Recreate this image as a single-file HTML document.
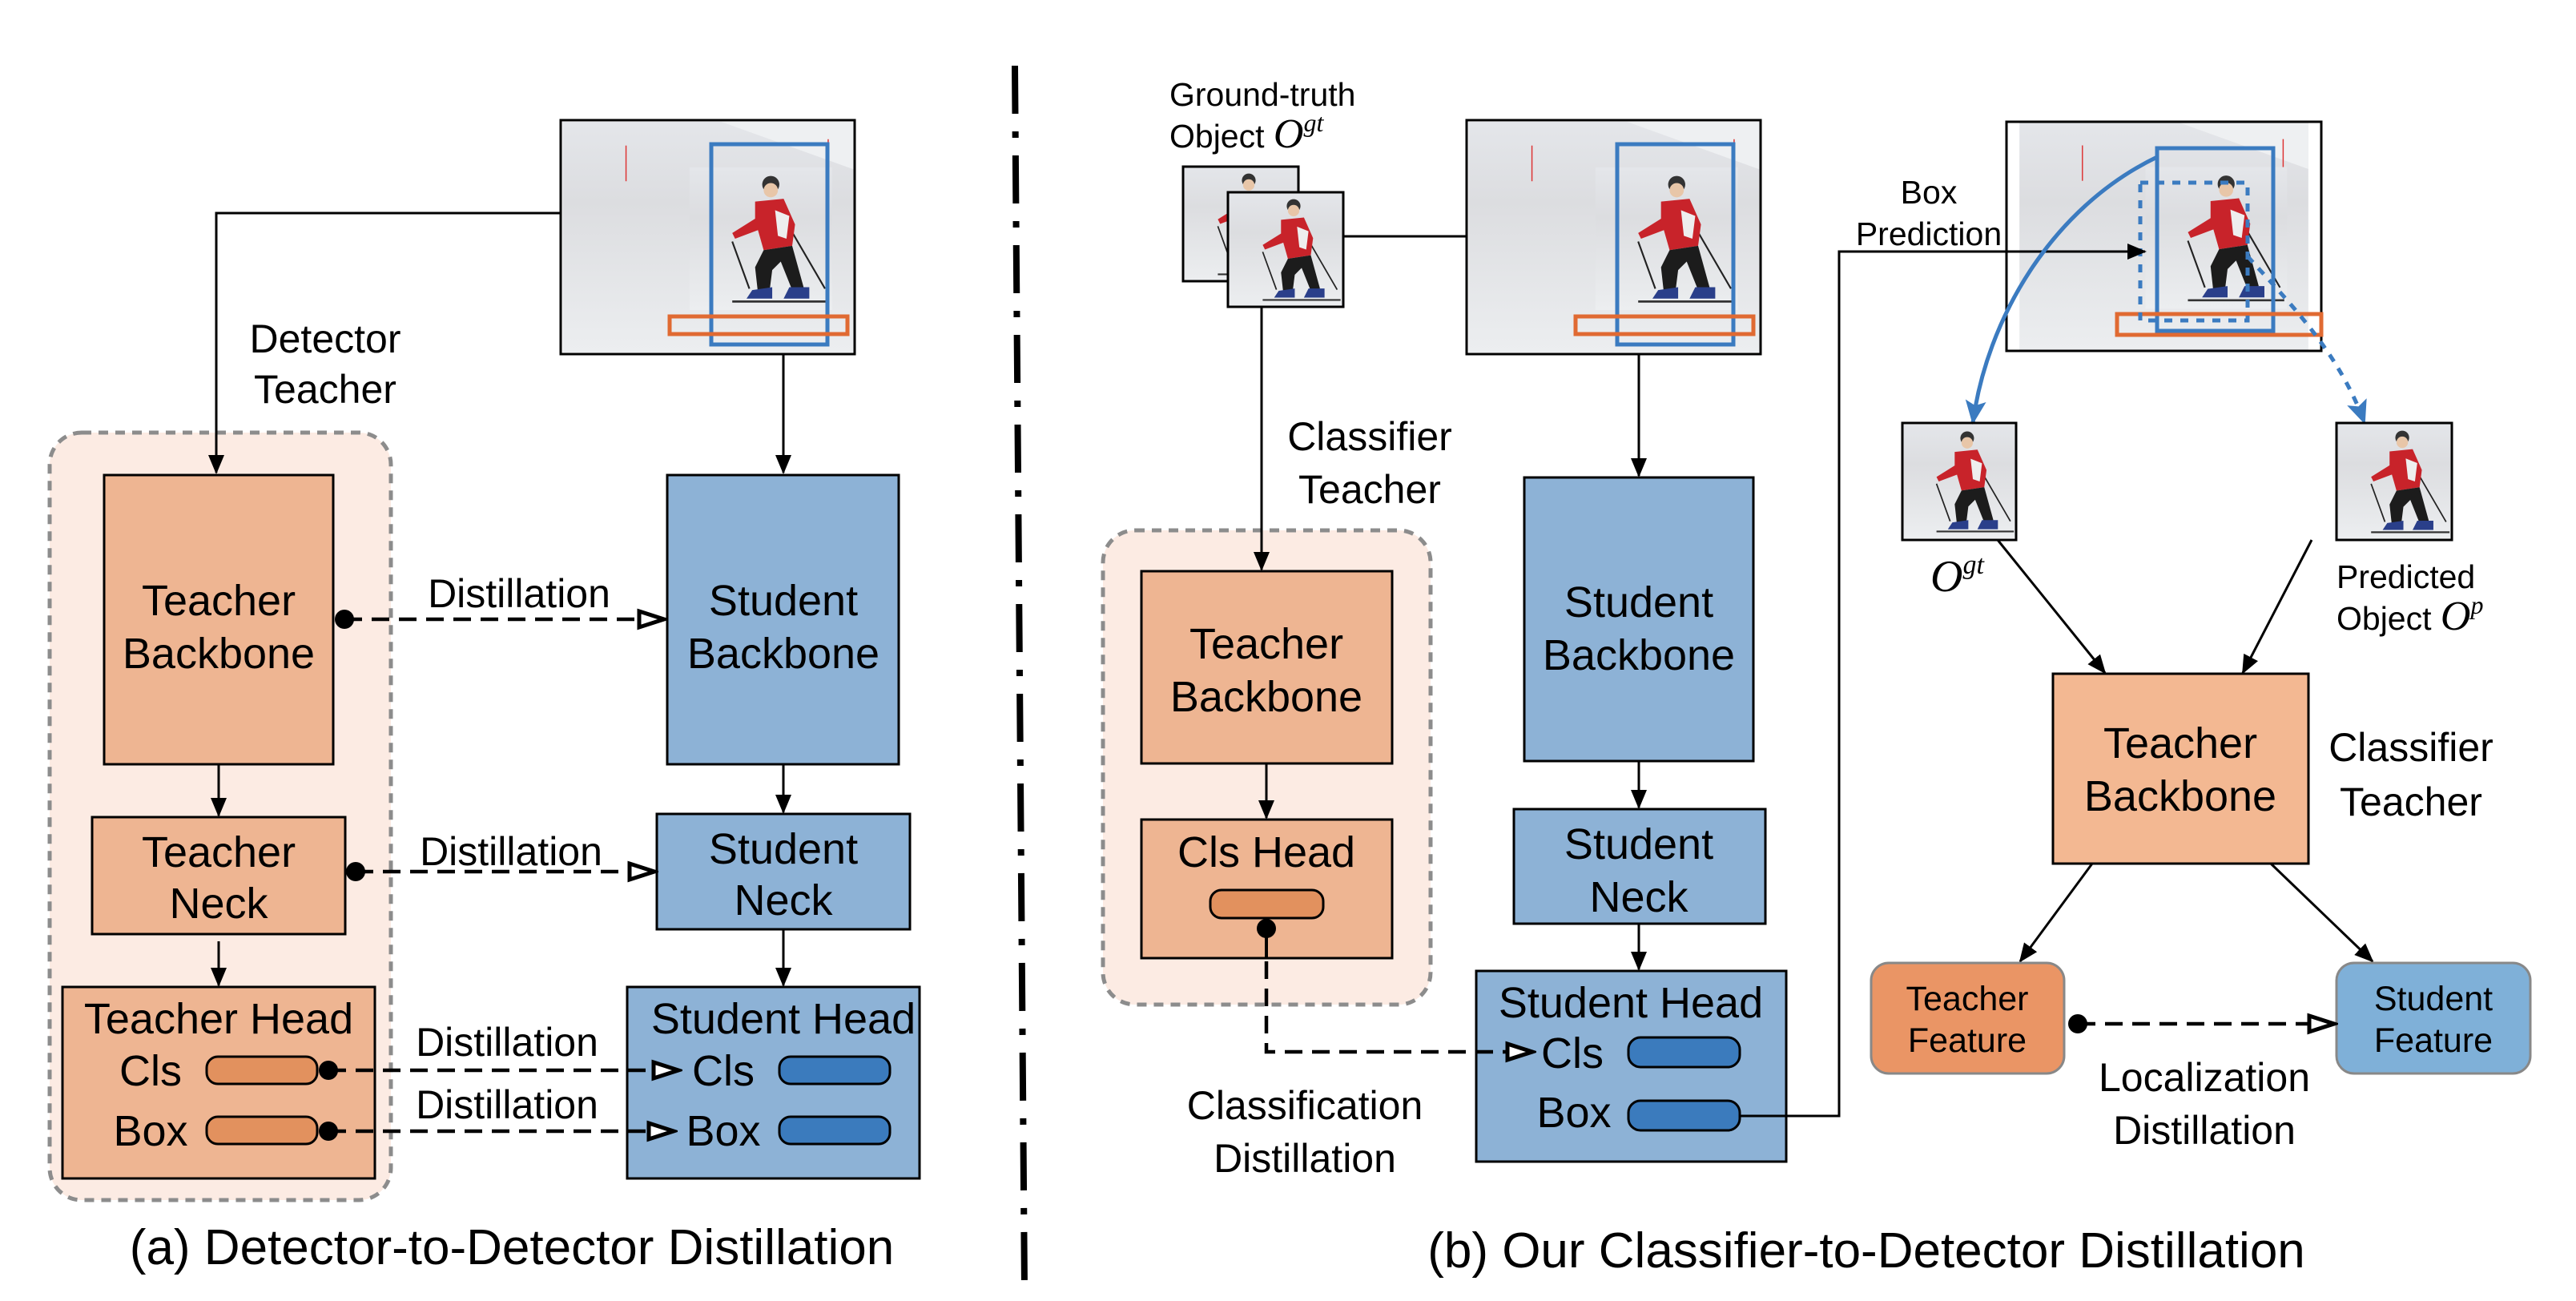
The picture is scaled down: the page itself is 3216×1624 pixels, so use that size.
<!DOCTYPE html>
<html><head><meta charset="utf-8"><style>
html,body{margin:0;padding:0;background:#fff}
svg{display:block}
text{font-family:"Liberation Sans",Arial,sans-serif;fill:#000}
.m{font-family:"Liberation Serif",serif;font-style:italic}
</style></head><body>
<svg width="3216" height="1624" viewBox="0 0 3216 1624" xmlns="http://www.w3.org/2000/svg">
<defs>
<marker id="ahb" markerWidth="24" markerHeight="24" refX="22" refY="12" orient="auto" markerUnits="userSpaceOnUse" viewBox="0 0 24 24"><path d="M0,2 L24,12 L0,22 z" fill="#000"/></marker>
<marker id="ahbl" markerWidth="32" markerHeight="32" refX="28" refY="16" orient="auto" markerUnits="userSpaceOnUse" viewBox="0 0 32 32"><path d="M0,3 L30,16 L0,29 L6,16 z" fill="#3b7bc0"/></marker>
<marker id="open" markerWidth="40" markerHeight="30" refX="36" refY="15" orient="auto" markerUnits="userSpaceOnUse" viewBox="0 0 40 30"><path d="M4,5 L35,15 L4,25 z" fill="#fff" stroke="#000" stroke-width="5" stroke-dasharray="none"/></marker>
<linearGradient id="snow" x1="0" y1="0" x2="0" y2="1"><stop offset="0" stop-color="#e4e6ea"/><stop offset="0.35" stop-color="#dcdde0"/><stop offset="1" stop-color="#eceef0"/></linearGradient>
<symbol id="skier" viewBox="0 0 100 100">
<rect x="0" y="0" width="100" height="100" fill="url(#snow)"/>
<line x1="30" y1="52" x2="42" y2="85" stroke="#222" stroke-width="1.2"/>
<line x1="70" y1="42" x2="95" y2="85" stroke="#222" stroke-width="1.2"/>
<circle cx="57" cy="12" r="6" fill="#333"/>
<circle cx="57" cy="16" r="5" fill="#e8c6a8"/>
<path d="M46,24 L66,22 L74,40 L72,55 L52,58 L48,44 L32,50 L30,46 L46,36 z" fill="#c8232a"/>
<path d="M60,30 L70,34 L68,50 L62,48 z" fill="#eee"/>
<path d="M52,58 L72,55 L80,84 L72,86 L64,66 L58,72 L56,88 L48,88 L46,70 z" fill="#1c1c1c"/>
<path d="M44,86 L58,84 L58,92 L40,92 z M70,84 L84,84 L84,92 L66,92 z" fill="#2a3f8a"/>
<line x1="30" y1="94" x2="98" y2="94" stroke="#333" stroke-width="1.5"/>
</symbol>
<symbol id="scene" viewBox="0 0 367 291">
<rect width="367" height="291" fill="url(#snow)"/>
<path d="M0,0 L200,0 L367,60 L367,0 z" fill="#eef0f2"/>
<line x1="80" y1="30" x2="80" y2="75" stroke="#d33" stroke-width="1.5"/>
<line x1="335" y1="22" x2="335" y2="90" stroke="#d33" stroke-width="1.5"/>
<use href="#skier" x="160" y="25" width="180" height="245"/>
</symbol>
</defs>

<!-- ============ LEFT (a) ============ -->
<rect x="62" y="540" width="426" height="958" rx="40" fill="#fcebe3" stroke="#8c8c8c" stroke-width="5" stroke-dasharray="12,9"/>

<use href="#scene" x="702" y="152" width="364" height="288"/>
<rect x="700" y="150" width="367" height="292" fill="none" stroke="#000" stroke-width="3"/>
<rect x="888" y="180" width="145" height="250" fill="none" stroke="#3b7bc0" stroke-width="5"/>
<rect x="836" y="395" width="222" height="22" fill="none" stroke="#e06a32" stroke-width="5"/>

<polyline points="700,266 270,266 270,590" fill="none" stroke="#000" stroke-width="3" marker-end="url(#ahb)"/>
<line x1="978" y1="442" x2="978" y2="590" stroke="#000" stroke-width="3" marker-end="url(#ahb)"/>
<text x="406" y="440" font-size="50" text-anchor="middle">Detector</text>
<text x="406" y="503" font-size="50" text-anchor="middle">Teacher</text>

<rect x="130" y="593" width="286" height="361" fill="#eeb592" stroke="#000" stroke-width="3"/>
<text x="273" y="768" font-size="54" text-anchor="middle">Teacher</text>
<text x="273" y="834" font-size="54" text-anchor="middle">Backbone</text>
<line x1="273" y1="954" x2="273" y2="1018" stroke="#000" stroke-width="3" marker-end="url(#ahb)"/>
<rect x="115" y="1020" width="316" height="146" fill="#eeb592" stroke="#000" stroke-width="3"/>
<text x="273" y="1082" font-size="54" text-anchor="middle">Teacher</text>
<text x="273" y="1146" font-size="54" text-anchor="middle">Neck</text>
<line x1="273" y1="1175" x2="273" y2="1230" stroke="#000" stroke-width="3" marker-end="url(#ahb)"/>
<rect x="78" y="1232" width="390" height="239" fill="#eeb592" stroke="#000" stroke-width="3"/>
<text x="273" y="1290" font-size="54" text-anchor="middle">Teacher Head</text>
<text x="188" y="1355" font-size="54" text-anchor="middle">Cls</text>
<text x="188" y="1430" font-size="54" text-anchor="middle">Box</text>
<rect x="258" y="1319" width="138" height="34" rx="14" fill="#e2915e" stroke="#000" stroke-width="3"/>
<rect x="258" y="1394" width="138" height="34" rx="14" fill="#e2915e" stroke="#000" stroke-width="3"/>

<rect x="833" y="593" width="289" height="361" fill="#8db2d6" stroke="#000" stroke-width="3"/>
<text x="978" y="768" font-size="54" text-anchor="middle">Student</text>
<text x="978" y="834" font-size="54" text-anchor="middle">Backbone</text>
<line x1="978" y1="954" x2="978" y2="1014" stroke="#000" stroke-width="3" marker-end="url(#ahb)"/>
<rect x="820" y="1016" width="316" height="144" fill="#8db2d6" stroke="#000" stroke-width="3"/>
<text x="978" y="1078" font-size="54" text-anchor="middle">Student</text>
<text x="978" y="1142" font-size="54" text-anchor="middle">Neck</text>
<line x1="978" y1="1160" x2="978" y2="1230" stroke="#000" stroke-width="3" marker-end="url(#ahb)"/>
<rect x="783" y="1232" width="365" height="239" fill="#8db2d6" stroke="#000" stroke-width="3"/>
<text x="978" y="1290" font-size="54" text-anchor="middle">Student Head</text>
<text x="903" y="1355" font-size="54" text-anchor="middle">Cls</text>
<text x="903" y="1430" font-size="54" text-anchor="middle">Box</text>
<rect x="973" y="1319" width="138" height="34" rx="14" fill="#3b7bbd" stroke="#000" stroke-width="3"/>
<rect x="973" y="1394" width="138" height="34" rx="14" fill="#3b7bbd" stroke="#000" stroke-width="3"/>

<circle cx="430" cy="773" r="12" fill="#000"/>
<line x1="430" y1="773" x2="830" y2="773" stroke="#000" stroke-width="4.5" stroke-dasharray="22,12" marker-end="url(#open)"/>
<text x="648" y="758" font-size="50" text-anchor="middle">Distillation</text>
<circle cx="444" cy="1088" r="12" fill="#000"/>
<line x1="444" y1="1088" x2="818" y2="1088" stroke="#000" stroke-width="4.5" stroke-dasharray="22,12" marker-end="url(#open)"/>
<text x="638" y="1080" font-size="50" text-anchor="middle">Distillation</text>
<circle cx="410" cy="1336" r="12" fill="#000"/>
<line x1="410" y1="1336" x2="848" y2="1336" stroke="#000" stroke-width="4.5" stroke-dasharray="22,12" marker-end="url(#open)"/>
<text x="633" y="1318" font-size="50" text-anchor="middle">Distillation</text>
<circle cx="410" cy="1412" r="12" fill="#000"/>
<line x1="410" y1="1412" x2="842" y2="1412" stroke="#000" stroke-width="4.5" stroke-dasharray="22,12" marker-end="url(#open)"/>
<text x="633" y="1396" font-size="50" text-anchor="middle">Distillation</text>

<text x="639" y="1578" font-size="62" text-anchor="middle">(a) Detector-to-Detector Distillation</text>

<line x1="1267" y1="82" x2="1279" y2="1608" stroke="#000" stroke-width="8" stroke-dasharray="60,22,8,22"/>

<!-- ============ RIGHT (b) ============ -->
<rect x="1377" y="662" width="409" height="592" rx="40" fill="#fcebe3" stroke="#8c8c8c" stroke-width="5" stroke-dasharray="12,9"/>

<text x="1460" y="132" font-size="41">Ground-truth</text>
<text x="1460" y="184" font-size="41">Object <tspan class="m" font-size="52">O</tspan><tspan class="m" font-size="32" dy="-20">gt</tspan></text>
<use href="#skier" x="1477" y="208" width="144" height="143"/>
<rect x="1477" y="208" width="144" height="143" fill="none" stroke="#000" stroke-width="3"/>
<use href="#skier" x="1533" y="240" width="144" height="143"/>
<rect x="1533" y="240" width="144" height="143" fill="none" stroke="#000" stroke-width="3"/>
<line x1="1677" y1="295" x2="1831" y2="295" stroke="#000" stroke-width="3"/>
<line x1="1575" y1="383" x2="1575" y2="711" stroke="#000" stroke-width="3" marker-end="url(#ahb)"/>
<text x="1710" y="562" font-size="50" text-anchor="middle">Classifier</text>
<text x="1710" y="628" font-size="50" text-anchor="middle">Teacher</text>

<use href="#scene" x="1833" y="152" width="364" height="288"/>
<rect x="1831" y="150" width="367" height="292" fill="none" stroke="#000" stroke-width="3"/>
<rect x="2019" y="180" width="145" height="250" fill="none" stroke="#3b7bc0" stroke-width="5"/>
<rect x="1967" y="395" width="222" height="22" fill="none" stroke="#e06a32" stroke-width="5"/>
<line x1="2046" y1="442" x2="2046" y2="594" stroke="#000" stroke-width="3" marker-end="url(#ahb)"/>

<rect x="1425" y="713" width="313" height="240" fill="#eeb592" stroke="#000" stroke-width="3"/>
<text x="1581" y="822" font-size="54" text-anchor="middle">Teacher</text>
<text x="1581" y="888" font-size="54" text-anchor="middle">Backbone</text>
<line x1="1581" y1="953" x2="1581" y2="1021" stroke="#000" stroke-width="3" marker-end="url(#ahb)"/>
<rect x="1425" y="1023" width="313" height="173" fill="#eeb592" stroke="#000" stroke-width="3"/>
<text x="1581" y="1082" font-size="54" text-anchor="middle">Cls Head</text>
<rect x="1511" y="1111" width="141" height="35" rx="14" fill="#e2915e" stroke="#000" stroke-width="3"/>
<circle cx="1581" cy="1159" r="12" fill="#000"/>
<line x1="1581" y1="1159" x2="1581" y2="1196" stroke="#000" stroke-width="4"/>
<text x="1629" y="1397" font-size="50" text-anchor="middle">Classification</text>
<text x="1629" y="1463" font-size="50" text-anchor="middle">Distillation</text>

<rect x="1903" y="596" width="286" height="354" fill="#8db2d6" stroke="#000" stroke-width="3"/>
<text x="2046" y="770" font-size="54" text-anchor="middle">Student</text>
<text x="2046" y="836" font-size="54" text-anchor="middle">Backbone</text>
<line x1="2046" y1="950" x2="2046" y2="1008" stroke="#000" stroke-width="3" marker-end="url(#ahb)"/>
<rect x="1890" y="1010" width="314" height="143" fill="#8db2d6" stroke="#000" stroke-width="3"/>
<text x="2046" y="1072" font-size="54" text-anchor="middle">Student</text>
<text x="2046" y="1138" font-size="54" text-anchor="middle">Neck</text>
<line x1="2046" y1="1153" x2="2046" y2="1210" stroke="#000" stroke-width="3" marker-end="url(#ahb)"/>
<rect x="1843" y="1212" width="387" height="238" fill="#8db2d6" stroke="#000" stroke-width="3"/>
<text x="2036" y="1270" font-size="54" text-anchor="middle">Student Head</text>
<text x="1963" y="1333" font-size="54" text-anchor="middle">Cls</text>
<text x="1965" y="1407" font-size="54" text-anchor="middle">Box</text>
<rect x="2033" y="1295" width="139" height="37" rx="15" fill="#3b7bbd" stroke="#000" stroke-width="3"/>
<rect x="2033" y="1374" width="139" height="37" rx="15" fill="#3b7bbd" stroke="#000" stroke-width="3"/>
<polyline points="1581,1200 1581,1313 1914,1313" fill="none" stroke="#000" stroke-width="4.5" stroke-dasharray="22,12" marker-end="url(#open)"/>
<polyline points="2172,1393 2296,1393 2296,314 2678,314" fill="none" stroke="#000" stroke-width="3" marker-end="url(#ahb)"/>
<text x="2408" y="254" font-size="41" text-anchor="middle">Box</text>
<text x="2408" y="306" font-size="41" text-anchor="middle">Prediction</text>

<use href="#scene" x="2507" y="152" width="389" height="286"/>
<rect x="2505" y="152" width="393" height="286" fill="none" stroke="#000" stroke-width="3"/>
<rect x="2693" y="185" width="145" height="228" fill="none" stroke="#3b7bc0" stroke-width="5"/>
<rect x="2643" y="392" width="255" height="26" fill="none" stroke="#e06a32" stroke-width="5"/>
<rect x="2672" y="228" width="134" height="172" fill="none" stroke="#3b7bc0" stroke-width="5" stroke-dasharray="10,10"/>
<polyline points="2505,314 2678,314" fill="none" stroke="#000" stroke-width="3" marker-end="url(#ahb)"/>
<path d="M2693,196 C2560,260 2480,400 2463,528" fill="none" stroke="#3b7bc0" stroke-width="5" marker-end="url(#ahbl)"/>
<path d="M2806,320 C2860,380 2920,440 2952,528" fill="none" stroke="#3b7bc0" stroke-width="5" stroke-dasharray="10,10" marker-end="url(#ahbl)"/>

<use href="#skier" x="2375" y="528" width="142" height="146"/>
<rect x="2375" y="528" width="142" height="146" fill="none" stroke="#000" stroke-width="3"/>
<use href="#skier" x="2917" y="528" width="144" height="146"/>
<rect x="2917" y="528" width="144" height="146" fill="none" stroke="#000" stroke-width="3"/>
<text x="2410" y="738" font-size="52"><tspan class="m" font-size="56">O</tspan><tspan class="m" font-size="34" dy="-22">gt</tspan></text>
<text x="2917" y="734" font-size="41">Predicted</text>
<text x="2917" y="786" font-size="41">Object <tspan class="m" font-size="52">O</tspan><tspan class="m" font-size="32" dy="-20">p</tspan></text>

<line x1="2494" y1="674" x2="2628" y2="840" stroke="#000" stroke-width="3" marker-end="url(#ahb)"/>
<line x1="2886" y1="674" x2="2800" y2="840" stroke="#000" stroke-width="3" marker-end="url(#ahb)"/>
<rect x="2563" y="841" width="319" height="237" fill="#f3b892" stroke="#000" stroke-width="3"/>
<text x="2722" y="946" font-size="54" text-anchor="middle">Teacher</text>
<text x="2722" y="1012" font-size="54" text-anchor="middle">Backbone</text>
<text x="3010" y="950" font-size="50" text-anchor="middle">Classifier</text>
<text x="3010" y="1018" font-size="50" text-anchor="middle">Teacher</text>
<line x1="2612" y1="1078" x2="2522" y2="1200" stroke="#000" stroke-width="3" marker-end="url(#ahb)"/>
<line x1="2835" y1="1078" x2="2962" y2="1200" stroke="#000" stroke-width="3" marker-end="url(#ahb)"/>

<rect x="2336" y="1202" width="241" height="138" rx="22" fill="#ea9565" stroke="#888" stroke-width="3"/>
<text x="2456" y="1261" font-size="43" text-anchor="middle">Teacher</text>
<text x="2456" y="1313" font-size="43" text-anchor="middle">Feature</text>
<rect x="2917" y="1202" width="242" height="138" rx="22" fill="#7fb0d8" stroke="#888" stroke-width="3"/>
<text x="3038" y="1261" font-size="43" text-anchor="middle">Student</text>
<text x="3038" y="1313" font-size="43" text-anchor="middle">Feature</text>
<circle cx="2594" cy="1278" r="12" fill="#000"/>
<line x1="2594" y1="1278" x2="2915" y2="1278" stroke="#000" stroke-width="4.5" stroke-dasharray="22,12" marker-end="url(#open)"/>
<text x="2752" y="1362" font-size="50" text-anchor="middle">Localization</text>
<text x="2752" y="1428" font-size="50" text-anchor="middle">Distillation</text>

<text x="2330" y="1582" font-size="62" text-anchor="middle">(b) Our Classifier-to-Detector Distillation</text>
</svg>
</body></html>
